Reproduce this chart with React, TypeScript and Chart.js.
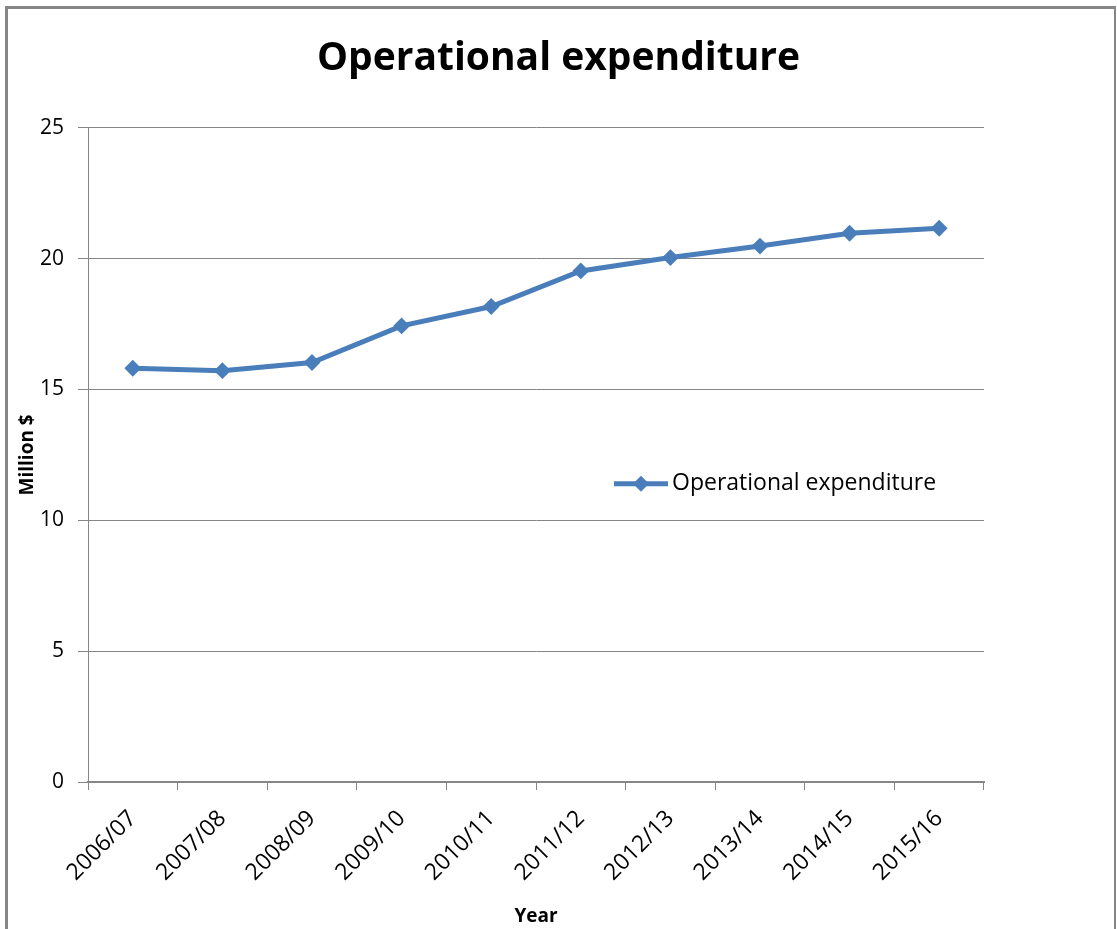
import React, { useEffect, useRef } from 'react';
import { Chart, registerables } from 'chart.js';

Chart.register(...registerables);

const chartTitle = 'Operational expenditure';
const seriesName = 'Operational expenditure';
const xAxisTitle = 'Year';
const yAxisTitle = 'Million $';

const categories = [
  '2006/07', '2007/08', '2008/09', '2009/10', '2010/11',
  '2011/12', '2012/13', '2013/14', '2014/15', '2015/16',
];
const values = [15.81, 15.72, 16.03, 17.43, 18.17, 19.53, 20.04, 20.48, 20.97, 21.16];
const yMin = 0;
const yMax = 25;
const yStep = 5;

const LINE_COLOR = '#4A7EBB';
const AXIS_COLOR = '#868686';
const FONT = "'Open Sans', 'DejaVu Sans', sans-serif";

const insideLegend = {
  id: 'insideLegend',
  afterDraw(chart: any) {
    const { ctx, chartArea } = chart;
    const x0 = chartArea.left + 526;
    const y0 = chartArea.top + 356;
    ctx.save();
    ctx.strokeStyle = LINE_COLOR;
    ctx.lineWidth = 5;
    ctx.beginPath();
    ctx.moveTo(x0, y0);
    ctx.lineTo(x0 + 54, y0);
    ctx.stroke();
    const cx = x0 + 27;
    const r = 8;
    ctx.fillStyle = LINE_COLOR;
    ctx.beginPath();
    ctx.moveTo(cx - r, y0);
    ctx.lineTo(cx, y0 - r);
    ctx.lineTo(cx + r, y0);
    ctx.lineTo(cx, y0 + r);
    ctx.closePath();
    ctx.fill();
    ctx.fillStyle = '#000';
    ctx.font = `23px ${FONT}`;
    ctx.textBaseline = 'middle';
    ctx.textAlign = 'left';
    ctx.fillText(seriesName, x0 + 58, y0);
    ctx.restore();
  },
};

export default function App() {
  const canvasRef = useRef<HTMLCanvasElement | null>(null);

  useEffect(() => {
    document.body.style.margin = '0';
    const canvas = canvasRef.current;
    if (!canvas) return;
    const chart = new Chart(canvas, {
      type: 'line',
      data: {
        labels: categories,
        datasets: [
          {
            label: seriesName,
            data: values,
            borderColor: LINE_COLOR,
            backgroundColor: LINE_COLOR,
            borderWidth: 5,
            pointStyle: 'rectRot',
            pointRadius: 7,
            pointBorderWidth: 2,
            pointBackgroundColor: LINE_COLOR,
            pointBorderColor: LINE_COLOR,
            tension: 0,
            yAxisID: 'y',
          },
        ],
      },
      options: {
        animation: false,
        responsive: false,
        maintainAspectRatio: false,
        devicePixelRatio: 1,
        layout: { padding: { left: 0, right: 0, top: 0, bottom: 0 } },
        plugins: {
          legend: { display: false },
          tooltip: { enabled: false },
          title: {
            display: true,
            text: chartTitle,
            color: '#000',
            font: { family: FONT, size: 39, weight: 'bold' },
            padding: { top: 35, bottom: 46 },
          },
        },
        scales: {
          x: {
            type: 'category',
            offset: true,
            grid: {
              display: true,
              drawOnChartArea: false,
              drawTicks: true,
              tickLength: 8,
              offset: true,
              color: AXIS_COLOR,
              tickColor: AXIS_COLOR,
            },
            border: { display: true, color: AXIS_COLOR, width: 2 },
            ticks: {
              autoSkip: false,
              maxRotation: 45,
              minRotation: 45,
              color: '#000',
              padding: 15,
              font: { family: FONT, size: 23 },
            },
            title: {
              display: true,
              text: xAxisTitle,
              color: '#000',
              font: { family: FONT, size: 19, weight: 'bold' },
              padding: { top: 0, bottom: 1 },
            },
            afterFit(scale: any) {
              scale.height = 147;
            },
          },
          y: {
            min: yMin,
            max: yMax,
            ticks: {
              stepSize: yStep,
              color: '#000',
              padding: 14,
              font: { family: FONT, size: 21 },
            },
            grid: {
              color: AXIS_COLOR,
              tickColor: AXIS_COLOR,
              drawTicks: true,
              tickLength: 10,
              lineWidth: 1,
            },
            border: { display: true, color: AXIS_COLOR, width: 1 },
            title: {
              display: true,
              text: yAxisTitle,
              color: '#000',
              font: { family: FONT, size: 19, weight: 'bold' },
              padding: { top: 16, bottom: 0 },
            },
            afterFit(scale: any) {
              scale.width = 88;
            },
          },
          spacer: {
            type: 'linear',
            position: 'right',
            display: true,
            min: yMin,
            max: yMax,
            grid: { display: false, drawOnChartArea: false, drawTicks: false },
            border: { display: false },
            ticks: { display: false },
            afterFit(scale: any) {
              scale.width = 133;
            },
          },
        },
      },
      plugins: [insideLegend],
    });
    return () => chart.destroy();
  }, []);

  return (
    <div style={{ position: 'relative', width: 1117, height: 929, overflow: 'hidden', background: '#fff' }}>
      <canvas ref={canvasRef} width={1117} height={929} style={{ display: 'block' }} />
      <div
        style={{
          position: 'absolute',
          left: 5,
          top: 6,
          width: 1111,
          height: 1000,
          boxSizing: 'border-box',
          borderLeft: `3px solid ${AXIS_COLOR}`,
          borderTop: `3px solid ${AXIS_COLOR}`,
          borderRight: `2px solid ${AXIS_COLOR}`,
          pointerEvents: 'none',
        }}
      />
    </div>
  );
}
